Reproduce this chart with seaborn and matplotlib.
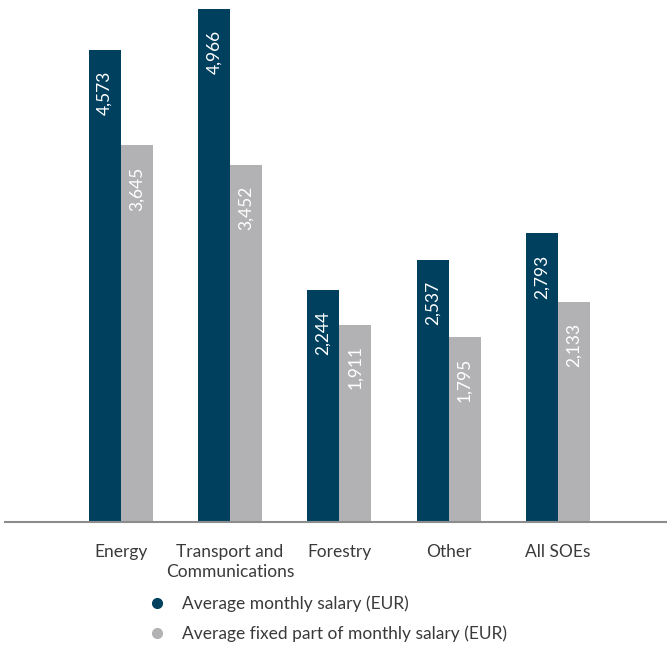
import matplotlib
matplotlib.use("Agg")
import matplotlib.pyplot as plt
from matplotlib.lines import Line2D
import seaborn as sns
import pandas as pd

categories = ["Energy", "Transport and\nCommunications", "Forestry", "Other", "All SOEs"]
avg_salary = [4573, 4966, 2244, 2537, 2793]
avg_fixed = [3645, 3452, 1911, 1795, 2133]
series_names = ["Average monthly salary (EUR)", "Average fixed part of monthly salary (EUR)"]

navy = "#00405F"
grey = "#B2B2B4"
text_col = "#3A3A3A"

df = pd.DataFrame({
    "category": categories * 2,
    "value": avg_salary + avg_fixed,
    "series": [series_names[0]] * len(categories) + [series_names[1]] * len(categories),
})

sns.set_theme(style="white")
plt.rcParams["font.family"] = ["Lato", "DejaVu Sans"]

fig = plt.figure(figsize=(6.67, 6.48), dpi=100)
ax = fig.add_axes([5 / 667, 126 / 648, 662 / 667, 522 / 648])

sns.barplot(data=df, x="category", y="value", hue="series",
            palette=[navy, grey], width=0.586, saturation=1,
            linewidth=0, legend=False, ax=ax)

ax.set_xlim(-1.06, 5.0)
ax.set_ylim(0, 5053)
ax.set_xlabel("")
ax.set_ylabel("")
ax.set_yticks([])
ax.tick_params(axis="x", length=0, pad=16, labelsize=12.5, labelcolor=text_col)
for lbl in ax.get_xticklabels():
    lbl.set_linespacing(1.3)
for s in ["top", "right", "left"]:
    ax.spines[s].set_visible(False)
ax.spines["bottom"].set_color("#8C8C8C")
ax.spines["bottom"].set_linewidth(1.5)

for container in ax.containers:
    for bar in container:
        h = bar.get_height()
        ax.annotate(f"{int(round(h)):,}",
                    xy=(bar.get_x() + bar.get_width() / 2, h),
                    xytext=(0, -15), textcoords="offset points",
                    rotation=90, ha="center", va="top",
                    color="white", fontsize=12.5)

handles = [Line2D([], [], linestyle="none", marker="o", markersize=7,
                  markerfacecolor=c, markeredgecolor=c) for c in (navy, grey)]
fig.legend(handles, series_names, loc="upper left",
           bbox_to_anchor=(137 / 667, 1 - 587 / 648),
           frameon=False, fontsize=12.5, labelcolor=text_col,
           handletextpad=0.8, labelspacing=0.75, borderpad=0, handlelength=1.3)

fig.savefig("out.png", dpi=100)
